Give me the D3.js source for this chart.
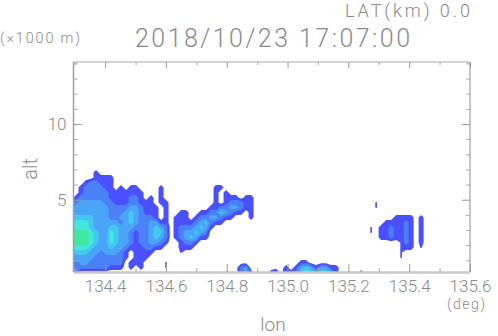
<!DOCTYPE html>
<html><head><meta charset="utf-8">
<script src="https://cdn.jsdelivr.net/npm/d3@7"></script>
<style>html,body{margin:0;background:#fff}svg{display:block}text{font-family:Roboto,"Liberation Sans",sans-serif;font-weight:300;fill:#8a8a8a}</style>
</head><body><svg id="c" width="498" height="336"></svg>
<script>
const title = "2018/10/23 17:07:00";
const latLabel = "LAT(km) 0.0";
const altUnit = "(\u00d71000 m)";
const lonUnit = "(deg)";
const lonMajor = [134.4,134.6,134.8,135.0,135.2,135.4,135.6];
const lonMinor = [134.3,134.5,134.7,134.9,135.1,135.3,135.5];
const altMajor = [5,10];
const altMinor = [1,2,3,4,6,7,8,9,11,12,13,14];
const lonDomain = [134.296,135.6];
const altDomain = [0.23,14.09];
const levelColors = ["#4b50ff","#4a80f8","#4aa5f8","#45c8f0","#40e8e0","#40e8a0"];
const levelThresholds = [0.5,1.5,2.5,3.5,4.5,5.5];
const gridLon0 = 134.296, gridLonStep = 0.01645, gridAltTop = 7.29, gridAltStep = 0.33;
// reflectivity class per cell, one string per altitude row (top to bottom); t = sliver of the lowest class
const cellsWest = [
"00000000000000000000","00001000000000000000","00001111000000000000","00122111000000000000",
"01222211010110000100","01222221111111000100","12222221111221010100","23333322111221110110",
"33333332222332111010","33333332223432111010","44443332233432221010","55543333323432233110",
"55543334433322234320","66654335433212234420","66654335433212234320","66654335433212233210",
"55543334332111221100","44433233321011110000","33332222221011100000","233222222201110000t0",
"222222211101010000t0","20000000000000000000"];
const cellsMiddle = [
"00000000000000000","00000000000000000","00000000000000000","00000000000000000",
"00000000110000000","00000000101000000","00000000101110110","00000000101222110",
"00000001122332110","01100112243211010","11101223321100010","11112342110000000",
"12223431000000000","12334320000000000","12343110000000000","01221000000000000",
"01110000000000000","0t000000000000000","00000000000000000","00000000000000000",
"00000000000002300","00000000000002310"];
const cellsEast = [
"","","","","","","",
"00000000000000000000000t",
"00000000000000000000000t",
"",
"000000000000000000000000000111101",
"0000000000000000000000000111121010",
"0000000000000000000000t01121121010",
"0000000000000000000000t01121121010",
"0000000000000000000000001121121010",
"0000000000000000000000000000t21010",
"0000000000000000000000000000t110t0",
"0000000000000000000000000000t",
"0000000000000000000000000000t",
"0000000011",
"0000010134313311",
"0012021245434431000010"];

const eastLen = 34;
const rows = cellsWest.map((r,i)=> r + cellsMiddle[i] + cellsEast[i].padEnd(eastLen,"0"));
const nx = rows[0].length, ny = rows.length;
const values = rows.flatMap(r=>Array.from(r,ch=>ch==="t"?0.6:+ch));

const x = d3.scaleLinear().domain(lonDomain).range([73.5,470]);
const y = d3.scaleLinear().domain(altDomain).range([272,62]);
const svg = d3.select("#c");

svg.append("defs").append("clipPath").attr("id","plot").append("rect")
  .attr("x",x.range()[0]).attr("y",y.range()[1]).attr("width",x.range()[1]-x.range()[0]).attr("height",y.range()[0]-y.range()[1]);

const project = d3.geoTransform({point(px,py){
  this.stream.point(x(gridLon0+px*gridLonStep), y(gridAltTop-py*gridAltStep));
}});
const path = d3.geoPath(project);
const contours = d3.contours().size([nx,ny]).thresholds(levelThresholds)(values);
svg.append("g").attr("clip-path","url(#plot)").selectAll("path").data(contours).join("path")
  .attr("d",path).attr("fill",(d,i)=>levelColors[i]);

function styleAxis(g,color,w){ g.select(".domain").remove(); g.selectAll("line").attr("stroke",color).attr("stroke-width",w||1); }
const fr = svg.append("g");
const L=x.range()[0],R=x.range()[1],T=y.range()[1],B=y.range()[0];
fr.append("line").attr("x1",L).attr("x2",R).attr("y1",T).attr("y2",T).attr("stroke","#c4c4c4").attr("stroke-width",1.5);
fr.append("line").attr("x1",L).attr("x2",R).attr("y1",B+0.5).attr("y2",B+0.5).attr("stroke","#c8c8c8").attr("stroke-width",2.5);
fr.append("line").attr("x1",L).attr("x2",L).attr("y1",T).attr("y2",B).attr("stroke","#a0a0a0").attr("stroke-width",1.5);
fr.append("line").attr("x1",R).attr("x2",R).attr("y1",T).attr("y2",B).attr("stroke","#b4b4b4").attr("stroke-width",1.5);

const gx = svg.append("g").attr("transform",`translate(0,${B})`).call(d3.axisBottom(x).tickValues(lonMajor).tickSize(-8).tickPadding(8).tickFormat(d3.format(".1f")));
styleAxis(gx,"#999");
gx.selectAll("text").attr("font-size",17).attr("fill","#8a8a8a").attr("font-family",null).attr("dy","0.71em");
const gxm = svg.append("g").attr("transform",`translate(0,${B})`).call(d3.axisBottom(x).tickValues(lonMinor).tickSize(-4).tickFormat(""));
styleAxis(gxm,"#aaa");
const gxt = svg.append("g").attr("transform",`translate(0,${T})`).call(d3.axisTop(x).tickValues(lonMajor).tickSize(-6).tickFormat(""));
styleAxis(gxt,"#999");
const gxtm = svg.append("g").attr("transform",`translate(0,${T})`).call(d3.axisTop(x).tickValues(lonMinor).tickSize(-3).tickFormat(""));
styleAxis(gxtm,"#aaa");

const gy = svg.append("g").attr("transform",`translate(${L},0)`).call(d3.axisLeft(y).tickValues(altMajor).tickSize(-8).tickPadding(7).tickFormat(d3.format("d")));
styleAxis(gy,"#999");
gy.selectAll("text").attr("font-size",17).attr("fill","#8a8a8a").attr("font-family",null);
const gym = svg.append("g").attr("transform",`translate(${L},0)`).call(d3.axisLeft(y).tickValues(altMinor).tickSize(-4).tickFormat(""));
styleAxis(gym,"#aaa");
const gyr = svg.append("g").attr("transform",`translate(${R},0)`).call(d3.axisRight(y).tickValues(altMajor).tickSize(-8).tickFormat(""));
styleAxis(gyr,"#999");
const gyrm = svg.append("g").attr("transform",`translate(${R},0)`).call(d3.axisRight(y).tickValues(altMinor).tickSize(-4).tickFormat(""));
styleAxis(gyrm,"#aaa");

function label(t,xp,yp,size,len,anchor){
  const s = svg.append("text").attr("x",xp).attr("y",yp).attr("font-size",size).text(t);
  if(len) s.attr("textLength",len).attr("lengthAdjust","spacing");
  if(anchor) s.attr("text-anchor",anchor);
  return s;
}
label(title,135,47,25,275);
label(latLabel,345,17,18,125);
label(altUnit,0,43,14.5,80);
label(lonUnit,447,309,14,38);
label("lon",273,331,19,null,"middle");
label("alt",0,0,20,null,"middle").attr("transform","translate(37,169) rotate(-90)");
</script></body></html>
